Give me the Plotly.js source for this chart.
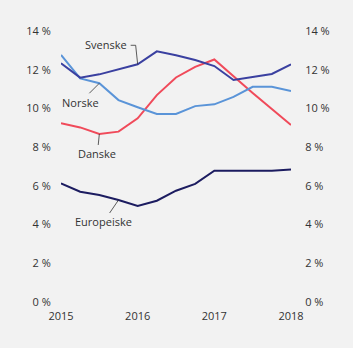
<!DOCTYPE html>
<html>
<head>
<meta charset="utf-8">
<script src="https://cdn.plot.ly/plotly-3.0.1.min.js"></script>
<style>html,body{margin:0;padding:0;background:#f2f2f2;}#chart{width:353px;height:348px;}</style>
</head>
<body>
<div id="chart"></div>
<script>
const dates = [2015, 2015.25, 2015.5, 2015.75, 2016, 2016.25, 2016.5, 2016.75, 2017, 2017.25, 2017.5, 2017.75, 2018];
const svenske = [12.33, 11.59, 11.76, 12.03, 12.28, 12.95, 12.75, 12.5, 12.19, 11.47, 11.62, 11.78, 12.28];
const norske = [12.76, 11.55, 11.3, 10.43, 10.06, 9.71, 9.71, 10.12, 10.21, 10.6, 11.12, 11.12, 10.9];
const danske = [9.23, 9.02, 8.68, 8.8, 9.49, 10.69, 11.6, 12.15, 12.53, 11.64, 10.8, 9.97, 9.14];
const europeiske = [6.13, 5.7, 5.53, 5.27, 4.96, 5.23, 5.75, 6.1, 6.78, 6.78, 6.78, 6.78, 6.85];
const yTicks = [0, 2, 4, 6, 8, 10, 12, 14];
const yTickText = yTicks.map(v => v + ' %');
const xTicks = [2015, 2016, 2017, 2018];

const font = {family: 'Open Sans, sans-serif', size: 11, color: '#333'};
function line(y, color, name) {
  return {x: dates, y: y, type: 'scatter', mode: 'lines', name: name,
    line: {color: color, width: 2}, hoverinfo: 'none'};
}
const data = [
  line(europeiske, '#1c1c60', 'Europeiske'),
  line(danske, '#f04a5a', 'Danske'),
  line(norske, '#5a94d8', 'Norske'),
  line(svenske, '#3a40a0', 'Svenske'),
  {x: [dates[0]], y: [0], yaxis: 'y2', type: 'scatter', mode: 'markers', marker: {opacity: 0}, showlegend: false, hoverinfo: 'none'}
];
function ann(text, i, series, ax, ay, arrow) {
  return {x: dates[i], y: series[i], xref: 'x', yref: 'y', text: text, showarrow: arrow,
    arrowhead: 0, arrowwidth: 0.8, arrowcolor: '#333', ax: ax, ay: ay, standoff: 0,
    xanchor: arrow ? 'auto' : 'right',
    font: {family: 'Open Sans, sans-serif', size: 11, color: '#333'}};
}
const layout = {
  width: 353, height: 348,
  paper_bgcolor: '#f2f2f2', plot_bgcolor: '#f2f2f2',
  margin: {l: 61, r: 62, t: 31, b: 46},
  showlegend: false,
  font: font,
  xaxis: {range: [2015, 2018], tickvals: xTicks, ticktext: xTicks.map(String),
    showgrid: false, zeroline: false, showline: false, ticks: 'outside', ticklen: 4, tickcolor: 'rgba(0,0,0,0)', tickfont: font},
  yaxis: {range: [0, 14], tickvals: yTicks, ticktext: yTickText, showgrid: false, zeroline: false,
    showline: false, ticks: 'outside', ticklen: 7, tickcolor: 'rgba(0,0,0,0)', tickfont: font},
  yaxis2: {range: [0, 14], tickvals: yTicks, ticktext: yTickText, overlaying: 'y', side: 'right',
    showgrid: false, zeroline: false, showline: false, ticks: 'outside', ticklen: 11, tickcolor: 'rgba(0,0,0,0)', tickfont: font},
  shapes: [
    {type: 'path', xref: 'x', yref: 'y', xsizemode: 'pixel', ysizemode: 'pixel',
      xanchor: dates[4], yanchor: svenske[4], path: 'M0,0 L-2,19 L-7,19',
      line: {color: '#333', width: 0.8}}
  ],
  annotations: [
    {x: dates[4], y: svenske[4], xref: 'x', yref: 'y', text: 'Svenske', showarrow: true,
      arrowcolor: 'rgba(0,0,0,0)', ax: -32, ay: -20,
      font: {family: 'Open Sans, sans-serif', size: 11, color: '#333'}},
    ann('Norske', 2, norske, -19, 19, true),
    ann('Danske', 2, danske, -2, 20, true),
    ann('Europeiske', 3, europeiske, -15, 22, true)
  ]
};
Plotly.newPlot('chart', data, layout, {staticPlot: true});
</script>
</body>
</html>
